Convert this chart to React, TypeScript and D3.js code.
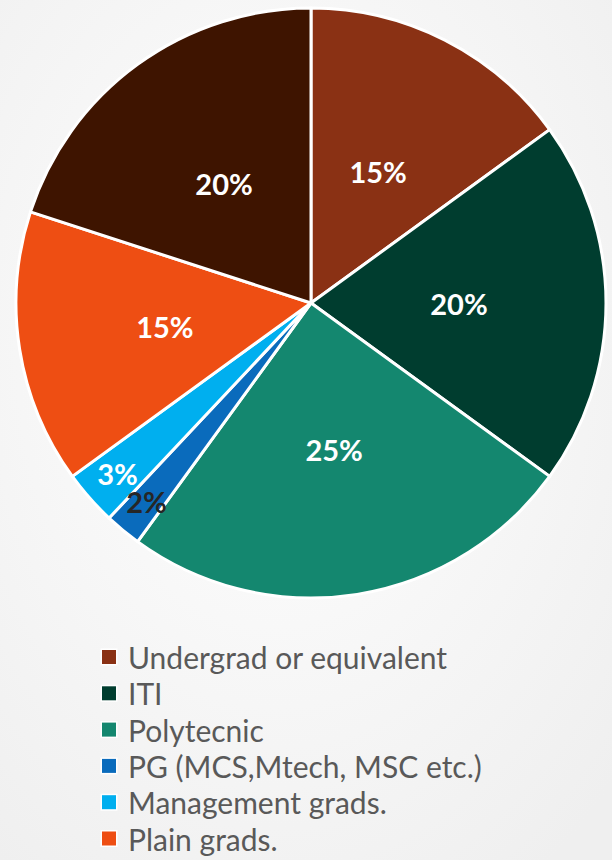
import React from "react";
import * as d3 from "d3";

const categories = [
  "Undergrad or equivalent",
  "ITI",
  "Polytecnic",
  "PG (MCS,Mtech, MSC etc.)",
  "Management grads.",
  "Plain grads.",
  "Other",
];
const values = [15, 20, 25, 2, 3, 15, 20];
const colors = ["#8A3114", "#003D2F", "#14876F", "#0A6BBC", "#00AFEF", "#EE4E13", "#3E1400"];
const labelColors = ["#FFFFFF", "#FFFFFF", "#FFFFFF", "#262626", "#FFFFFF", "#FFFFFF", "#FFFFFF"];
const legendCount = 6;

const W = 612;
const H = 860;

export default function App() {
  const cx = 311;
  const cy = 303;
  const r = 295;
  const pie = d3.pie<number>().sort(null).value((d) => d)(values);
  const arc = d3.arc<d3.PieArcDatum<number>>().innerRadius(0).outerRadius(r);
  const total = d3.sum(values);

  const legendX = 102;
  const legendY0 = 657;
  const legendStep = 36.3;

  return (
    <svg
      width={W}
      height={H}
      style={{ position: "absolute", left: 0, top: 0, display: "block" }}
      fontFamily="Lato, 'Liberation Sans', Arial, sans-serif"
    >
      <defs>
        <radialGradient id="bg" cx="0.45" cy="0.4" r="0.75">
          <stop offset="0" stopColor="#FFFFFF" />
          <stop offset="1" stopColor="#EFEFEF" />
        </radialGradient>
      </defs>
      <rect x={0} y={0} width={W} height={H} fill="url(#bg)" />
      <g transform={`translate(${cx},${cy})`}>
        {pie.map((p, i) => (
          <path key={i} d={arc(p) || ""} fill={colors[i]} stroke="#FFFFFF" strokeWidth={3} strokeLinejoin="round" />
        ))}
        {pie.map((p, i) => {
          const frac = values[i] / total;
          const lr = frac < 0.05 ? 258 : 148;
          const a = (p.startAngle + p.endAngle) / 2;
          const x = Math.sin(a) * lr;
          const y = -Math.cos(a) * lr;
          return (
            <text
              key={"l" + i}
              x={x}
              y={y}
              textAnchor="middle"
              dominantBaseline="central"
              fontSize={29}
              fontWeight="bold"
              fill={labelColors[i]}
            >
              {`${values[i]}%`}
            </text>
          );
        })}
      </g>
      {categories.slice(0, legendCount).map((c, i) => {
        const y = legendY0 + i * legendStep;
        return (
          <g key={"lg" + i}>
            <rect x={legendX - 1.5} y={y - 8.5} width={17} height={17} fill="#FFFFFF" />
            <rect x={legendX} y={y - 7} width={14} height={14} fill={colors[i]} />
            <text x={128} y={y} dominantBaseline="central" fontSize={30} fill="#595959">
              {c}
            </text>
          </g>
        );
      })}
    </svg>
  );
}
